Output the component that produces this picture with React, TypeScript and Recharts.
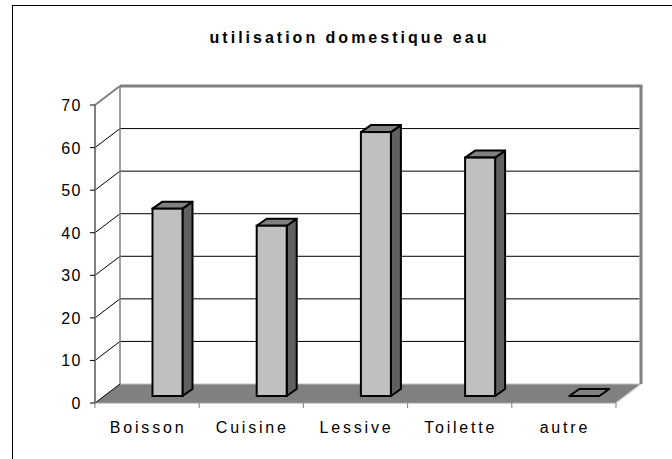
import React from 'react';
import { BarChart, Bar, XAxis, YAxis, CartesianGrid } from 'recharts';

const categories = ['Boisson', 'Cuisine', 'Lessive', 'Toilette', 'autre'];
const usageValues = [44, 40, 62, 56, 0];
const yTicks = [0, 10, 20, 30, 40, 50, 60, 70];
const chartTitle = 'utilisation domestique eau';

const data = categories.map((name, i) => ({ name, value: usageValues[i] }));

const FONT = '"Liberation Sans", Arial, sans-serif';
// 3D styling constants
const WALL_DX = 25;
const WALL_DY = -19;
const BAR_SHIFT_X = 20.5;
const BAR_SHIFT_Y = -7;
const BAR_DX = 10;
const BAR_DY = -7;

const GridLine = (props: any) => {
  const { x1, x2, y1, y, height } = props;
  const top = y;
  const bottom = y + height;
  if (Math.abs(y1 - bottom) < 0.6) {
    return (
      <g>
        <polygon
          points={`${x1},${y1} ${x2},${y1} ${x2 + WALL_DX},${y1 + WALL_DY} ${x1 + WALL_DX},${y1 + WALL_DY}`}
          fill="#808080"
          stroke="none"
        />
        <line x1={x1 + WALL_DX} y1={y1 + WALL_DY} x2={x2 + WALL_DX} y2={y1 + WALL_DY} stroke="#c0c0c0" strokeWidth={1} />
        <line x1={x1} y1={y1} x2={x1 + WALL_DX} y2={y1 + WALL_DY} stroke="#000" strokeWidth={1} />
        <line x1={x2} y1={y1} x2={x2 + WALL_DX} y2={y1 + WALL_DY} stroke="#d0d0d0" strokeWidth={1.2} />
      </g>
    );
  }
  if (Math.abs(y1 - top) < 0.6) {
    return (
      <g>
        <line x1={x1 + WALL_DX} y1={top + WALL_DY} x2={x1 + WALL_DX} y2={bottom + WALL_DY} stroke="#808080" strokeWidth={1.5} />
        <line x1={x2 + WALL_DX} y1={top + WALL_DY} x2={x2 + WALL_DX} y2={bottom + WALL_DY} stroke="#808080" strokeWidth={3} />
        <line x1={x1 + WALL_DX} y1={y1 + WALL_DY} x2={x2 + WALL_DX + 1.5} y2={y1 + WALL_DY} stroke="#808080" strokeWidth={3} />
        <line x1={x1} y1={y1} x2={x1 + WALL_DX} y2={y1 + WALL_DY} stroke="#808080" strokeWidth={2} />
      </g>
    );
  }
  return (
    <g>
      <line x1={x1 + WALL_DX} y1={y1 + WALL_DY} x2={x2 + WALL_DX - 1.5} y2={y1 + WALL_DY} stroke="#000" strokeWidth={1} />
      <line x1={x1} y1={y1} x2={x1 + WALL_DX} y2={y1 + WALL_DY} stroke="#000" strokeWidth={1} />
    </g>
  );
};

const Bar3D = (props: any) => {
  const { x, y, width, height } = props;
  if (x == null || y == null) return null;
  const sx = x + BAR_SHIFT_X;
  const sy = y + BAR_SHIFT_Y;
  const w = width;
  const h = Math.max(0, height || 0);
  const topFace = `${sx},${sy} ${sx + BAR_DX},${sy + BAR_DY} ${sx + w + BAR_DX},${sy + BAR_DY} ${sx + w},${sy}`;
  if (h < 0.5) {
    return (
      <g>
        <polygon points={topFace} fill="#808080" stroke="#000" strokeWidth={2} strokeLinejoin="round" />
      </g>
    );
  }
  const sideFace = `${sx + w},${sy} ${sx + w + BAR_DX},${sy + BAR_DY} ${sx + w + BAR_DX},${sy + h + BAR_DY} ${sx + w},${sy + h}`;
  return (
    <g>
      <polygon points={sideFace} fill="#606060" stroke="#000" strokeWidth={2} strokeLinejoin="round" />
      <polygon points={topFace} fill="#808080" stroke="#000" strokeWidth={2} strokeLinejoin="round" />
      <rect x={sx} y={sy} width={w} height={h} fill="#c0c0c0" stroke="#000" strokeWidth={2} />
    </g>
  );
};

const YTick = (props: any) => {
  const { y, payload } = props;
  const coord = payload.coordinate ?? y;
  const axisX = props.x + 13;
  return (
    <g>
      <line x1={axisX - 5} y1={coord} x2={axisX} y2={coord} stroke="#000" strokeWidth={1} />
      <text
        x={axisX - 13}
        y={coord + 6}
        textAnchor="end"
        fontFamily={FONT}
        fontSize={16}
        letterSpacing={1.5}
        fill="#000"
      >
        {payload.value}
      </text>
    </g>
  );
};

const XTick = (props: any) => {
  const { x, y, payload, index, visibleTicksCount } = props;
  const half = payload.offset ?? 52;
  const axisY = y - 8;
  const isLast = index === (visibleTicksCount ?? categories.length) - 1;
  return (
    <g>
      <line x1={x - half} y1={axisY} x2={x - half} y2={axisY + 5} stroke="#808080" strokeWidth={1} />
      {isLast && <line x1={x + half} y1={axisY} x2={x + half} y2={axisY + 5} stroke="#808080" strokeWidth={1} />}
      <text
        x={x + 1}
        y={axisY + 29.5}
        textAnchor="middle"
        fontFamily={FONT}
        fontSize={16}
        letterSpacing={2.8}
        fill="#000"
      >
        {payload.value}
      </text>
    </g>
  );
};

export default function App() {
  return (
    <div style={{ position: 'fixed', left: 0, top: 0, width: 672, height: 459, overflow: 'hidden', background: '#fff' }}>
      <svg width={672} height={459} style={{ position: 'absolute', left: 0, top: 0 }}>
        <rect x={12.5} y={5.5} width={720} height={520} fill="#fff" stroke="#000" strokeWidth={1} />
        <text
          x={349.5}
          y={42.5}
          textAnchor="middle"
          fontFamily={FONT}
          fontWeight="bold"
          fontSize={16}
          letterSpacing={3}
          fill="#000"
        >
          {chartTitle}
        </text>
      </svg>
      <div style={{ position: 'absolute', left: 0, top: 0 }}>
        <BarChart
          width={672}
          height={459}
          data={data}
          margin={{ top: 105, right: 56, bottom: 0, left: 0 }}
          barSize={30}
        >
          <CartesianGrid horizontal={(p: any) => <GridLine {...p} />} vertical={false} />
          <XAxis
            dataKey="name"
            height={56}
            axisLine={{ stroke: '#a0a0a0', strokeWidth: 1 }}
            tickLine={false}
            tick={<XTick />}
            interval={0}
          />
          <YAxis
            width={95}
            domain={[0, 70]}
            ticks={yTicks}
            interval={0}
            axisLine={{ stroke: '#808080', strokeWidth: 2 }}
            tickLine={false}
            tickSize={5}
            tickMargin={8}
            tick={<YTick />}
          />
          <Bar dataKey="value" shape={<Bar3D />} isAnimationActive={false} />
        </BarChart>
      </div>
    </div>
  );
}
